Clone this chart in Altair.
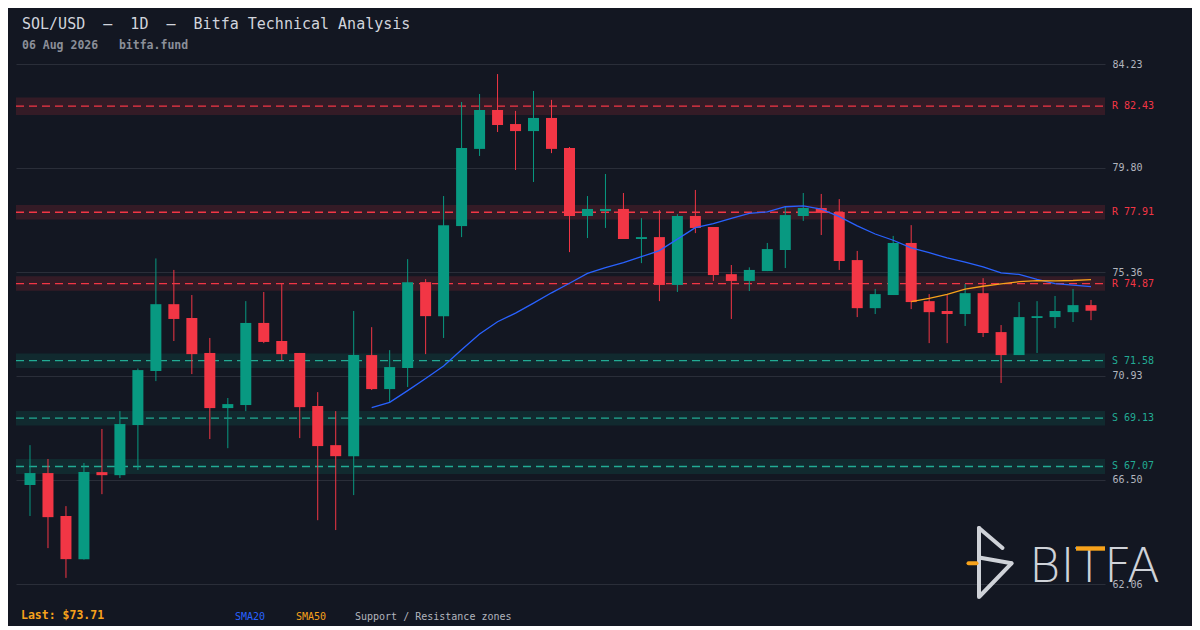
import altair as alt
import pandas as pd

# ---------------- data ----------------
opens = [66.28, 66.79, 64.96, 63.12, 66.83, 66.70, 68.84, 71.14, 73.99, 73.40,
         71.91, 69.56, 69.69, 73.19, 72.42, 71.91, 69.65, 67.98, 67.51, 71.82,
         70.37, 71.27, 74.93, 73.48, 77.32, 80.61, 82.27, 81.67, 81.37, 81.93,
         80.65, 77.75, 77.96, 78.05, 76.77, 76.85, 74.81, 77.75, 77.28, 75.27,
         74.98, 75.40, 76.30, 77.75, 78.09, 77.92, 75.87, 73.82, 74.38, 76.60,
         74.12, 73.70, 73.57, 74.46, 72.80, 71.82, 73.40, 73.44, 73.65, 73.95]
highs = [67.98, 67.39, 65.38, 67.22, 68.67, 69.43, 71.25, 75.94, 75.45, 74.38,
         72.55, 69.99, 74.12, 74.51, 74.89, 71.91, 70.24, 69.43, 73.70, 73.01,
         72.03, 75.91, 75.06, 78.60, 82.61, 82.95, 83.80, 82.23, 83.08, 82.70,
         80.69, 78.60, 79.54, 78.73, 77.66, 78.00, 77.83, 78.86, 77.28, 75.66,
         75.56, 76.60, 78.17, 78.73, 78.69, 78.47, 76.26, 74.64, 76.90, 77.36,
         74.42, 74.38, 74.85, 75.10, 73.10, 74.08, 74.12, 74.34, 74.64, 74.17]
lows = [64.96, 63.59, 62.32, 63.10, 65.89, 66.58, 66.92, 70.71, 72.42, 71.01,
        68.24, 67.85, 69.43, 72.33, 71.61, 68.28, 64.78, 64.36, 65.85, 70.33,
        69.79, 70.46, 71.86, 72.55, 76.85, 80.31, 81.33, 79.71, 79.20, 80.43,
        76.21, 76.81, 77.24, 76.77, 75.74, 74.12, 74.51, 77.02, 74.98, 73.36,
        74.55, 75.40, 75.53, 77.54, 76.94, 75.45, 73.44, 73.57, 74.38, 73.78,
        72.33, 72.33, 73.06, 72.59, 70.63, 71.82, 71.91, 72.97, 73.23, 73.31]
closes = [66.79, 64.91, 63.12, 66.83, 66.70, 68.88, 71.18, 73.99, 73.36, 71.86,
          69.56, 69.73, 73.19, 72.38, 71.86, 69.60, 67.94, 67.51, 71.82, 70.37,
          71.31, 74.93, 73.48, 77.36, 80.65, 82.27, 81.63, 81.37, 81.93, 80.61,
          77.75, 78.05, 78.05, 76.77, 76.85, 74.81, 77.75, 77.24, 75.23, 74.98,
          75.45, 76.34, 77.79, 78.09, 77.88, 75.83, 73.82, 74.42, 76.60, 74.08,
          73.65, 73.57, 74.46, 72.76, 71.82, 73.44, 73.48, 73.70, 73.95, 73.71]

res_levels = [82.43, 77.91, 74.87]
res_half = [0.37, 0.31, 0.31]
sup_levels = [71.58, 69.13, 67.07]
sup_half = [0.31, 0.31, 0.32]
tick_values = [62.06, 66.50, 70.93, 75.36, 79.80, 84.23]

NB = "\u00a0"
title_text = [f"SOL/USD{NB}{NB}\u2013{NB}{NB}1D{NB}{NB}\u2013{NB}{NB}Bitfa{NB}Technical{NB}Analysis"]
subtitle_text = [f"06{NB}Aug{NB}2026{NB}{NB}{NB}bitfa.fund"]
last_text = ["Last: $73.71"]
legend_sma20 = ["SMA20"]
legend_sma50 = ["SMA50"]
legend_zones = ["Support / Resistance zones"]
logo_text = ["BITFA"]

# ---------------- styling ----------------
W, H = 1089, 520
BG = "#131722"
GREEN = "#089981"
RED = "#f23645"
TEAL = "#22ab94"
GRID = "#2a2e39"
BLUE = "#2962ff"
ORANGE = "#f7a21b"
LABEL = "#b2b5be"
MONO = "DejaVu Sans Mono"

df = pd.DataFrame({"i": list(range(len(opens))), "open": opens, "high": highs,
                   "low": lows, "close": closes})

zones = pd.DataFrame({
    "level": res_levels + sup_levels,
    "half": res_half + sup_half,
    "kind": ["R"] * len(res_levels) + ["S"] * len(sup_levels),
})
zones["lo"] = zones["level"] - zones["half"]
zones["hi"] = zones["level"] + zones["half"]
zones["label"] = zones["kind"] + " " + zones["level"].map(lambda v: f"{v:.2f}")

yscale = alt.Scale(domain=[62.06, 84.23], nice=False, zero=False)
yaxis = alt.Axis(orient="right", values=tick_values, format=".2f", grid=True,
                 gridColor=GRID, gridWidth=1, domain=False, ticks=False,
                 labelPadding=7, labelFont=MONO, labelFontSize=10,
                 labelColor=LABEL, title=None)
xscale = alt.Scale(domain=[-0.5, len(opens) - 0.5], nice=False, zero=False)


def Y(field):
    return alt.Y(field, scale=yscale, axis=yaxis)


X = alt.X("i:Q", scale=xscale, axis=None)
updown = alt.condition("datum.close >= datum.open", alt.value(GREEN), alt.value(RED))
zcolor = alt.condition("datum.kind == 'R'", alt.value(RED), alt.value(TEAL))
zfill = alt.condition("datum.kind == 'R'", alt.value(RED), alt.value(GREEN))

zone_rect = alt.Chart(zones).mark_rect(opacity=0.15).encode(
    x=alt.value(0), x2=alt.value(W), y=Y("lo:Q"), y2="hi:Q", color=zfill)
zone_line = alt.Chart(zones).mark_rule(strokeDash=[8, 5], strokeWidth=1.3).encode(
    x=alt.value(0), x2=alt.value(W), y=Y("level:Q"), color=zcolor)
zone_label = alt.Chart(zones).mark_text(align="left", baseline="middle", font=MONO,
                                        fontSize=10).encode(
    x=alt.value(W + 7), y=Y("level:Q"), text="label:N", color=zcolor)

wicks = alt.Chart(df).mark_rule(strokeWidth=1).encode(
    x=X, y=Y("low:Q"), y2="high:Q", color=updown)
bodies = alt.Chart(df).mark_bar(size=11).encode(
    x=X, y=Y("open:Q"), y2="close:Q", color=updown)

sma20 = alt.Chart(df).transform_window(
    sma="mean(close)", frame=[-19, 0], sort=[alt.SortField("i")]
).transform_filter("datum.i >= 19").mark_line(color=BLUE, strokeWidth=1.3).encode(
    x=X, y=Y("sma:Q"))
sma50 = alt.Chart(df).transform_window(
    sma="mean(close)", frame=[-49, 0], sort=[alt.SortField("i")]
).transform_filter("datum.i >= 49").mark_line(color=ORANGE, strokeWidth=1.3).encode(
    x=X, y=Y("sma:Q"))


def label(texts, x, y, color, size, weight="normal", font=MONO):
    return alt.Chart(pd.DataFrame({"t": texts})).mark_text(
        align="left", baseline="alphabetic", font=font, fontSize=size,
        fontWeight=weight, color=color).encode(
        x=alt.value(x), y=alt.value(y), text="t:N")


title = label(title_text, 6, -35, "#d1d4dc", 15)
subtitle = label(subtitle_text, 6, -15, "#8b8f99", 11.5, "bold")
last = label(last_text, 5, 555, ORANGE, 11.5, "bold")
leg1 = label(legend_sma20, 219, 556, BLUE, 10)
leg2 = label(legend_sma50, 280, 556, ORANGE, 10)
leg3 = label(legend_zones, 339, 556, LABEL, 10)

LOGO = "#cfd2d8"
one = pd.DataFrame({"k": [0]})


def seg(x1, y1, x2, y2, color=LOGO, w=4, cap="round"):
    return alt.Chart(one).mark_rule(strokeWidth=w, strokeCap=cap, color=color).encode(
        x=alt.value(x1), y=alt.value(y1), x2=alt.value(x2), y2=alt.value(y2))


logo = [
    seg(963, 464, 963, 533),
    seg(963, 464, 986.5, 484),
    seg(963, 493.5, 995.5, 499.3),
    seg(995.5, 499.3, 964, 532),
    seg(952.5, 499.3, 960.5, 499.3, ORANGE, 4),
    label(logo_text, 1013, 517.7, LOGO, 48, 200, "DejaVu Sans"),
    seg(1060, 484.5, 1089, 484.5, ORANGE, 4.4, "butt"),
]

chart = alt.layer(
    zone_rect, zone_line, wicks, bodies, sma20, sma50, zone_label,
    title, subtitle, last, leg1, leg2, leg3, *logo
).properties(
    width=W, height=H,
    autosize=alt.AutoSizeParams(type="none"),
    padding={"left": 8, "top": 56, "right": 87, "bottom": 42},
).configure(background=BG).configure_view(stroke=None)

chart.save("out.html", embed_options={"renderer": "svg", "actions": False})
